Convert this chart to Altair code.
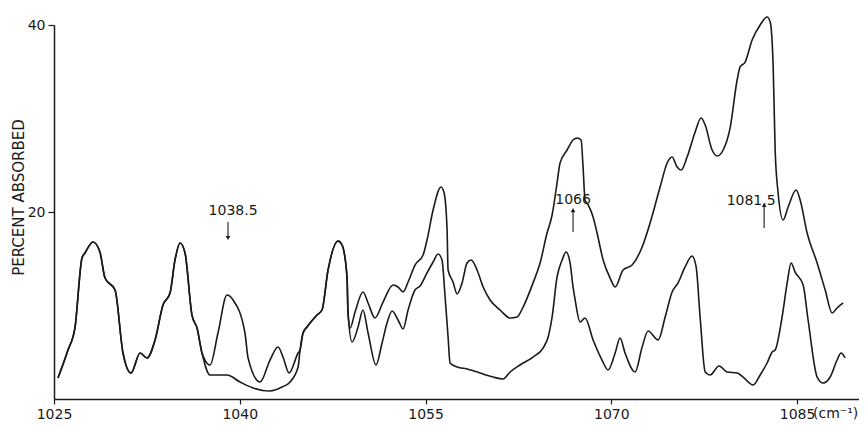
import altair as alt
import pandas as pd

# ---- data (wavenumber cm^-1, percent absorbed) ----
x_upper = [1025.32, 1026.13, 1026.70, 1027.26, 1027.50, 1028.15, 1028.71, 1029.12, 1029.93, 1030.57,
           1031.22, 1031.95, 1032.51, 1033.16, 1033.80, 1034.37, 1034.77, 1035.18, 1035.58, 1036.14,
           1036.55, 1036.95, 1037.19, 1037.60, 1038.24, 1038.97, 1039.46, 1040.42, 1040.67, 1041.64,
           1042.44, 1043.09, 1043.49, 1043.98, 1044.71, 1044.87, 1045.11, 1045.43, 1046.24, 1046.64,
           1047.13, 1047.94, 1048.26, 1048.66, 1048.74, 1048.91, 1049.31, 1049.95, 1050.36, 1050.92,
           1051.57, 1052.38, 1052.78, 1053.19, 1053.59, 1054.15, 1054.80, 1055.12, 1055.61, 1056.25,
           1056.50, 1056.74, 1056.82, 1057.22, 1057.55, 1057.95, 1058.35, 1058.68, 1059.16, 1059.65,
           1060.21, 1061.02, 1061.83, 1062.39, 1062.88, 1063.68, 1064.25, 1064.81, 1065.22, 1065.62,
           1065.86, 1066.43, 1066.91, 1067.24, 1067.56, 1067.72, 1067.88, 1068.13, 1068.53, 1068.85,
           1069.34, 1069.90, 1070.31, 1070.95, 1071.68, 1072.49, 1073.13, 1073.94, 1074.51, 1074.91,
           1075.31, 1075.64, 1076.12, 1076.77, 1077.25, 1077.58, 1078.14, 1078.55, 1079.03, 1079.59,
           1080.16, 1080.40, 1080.81, 1081.37, 1082.02, 1082.58, 1082.83, 1083.07, 1083.23, 1083.47,
           1083.87, 1084.28, 1084.92, 1085.25, 1085.81, 1086.62, 1087.27, 1087.83, 1088.23, 1088.72]
y_upper = [2.25, 5.24, 7.70, 15.08, 15.61, 16.79, 15.72, 12.94, 11.66, 4.92,
           2.78, 4.92, 4.39, 6.31, 10.05, 11.34, 14.87, 16.68, 15.61, 8.98,
           7.59, 4.92, 4.17, 3.64, 7.06, 11.12, 10.59, 7.06, 4.39, 1.82,
           4.17, 5.56, 4.49, 2.78, 4.92, 5.24, 7.06, 7.70, 8.98, 9.52,
           13.80, 16.90, 16.47, 13.05, 9.20, 7.59, 9.30, 11.44, 10.27, 8.66,
           10.37, 12.19, 11.98, 11.44, 12.51, 14.33, 15.40, 17.01, 20.21, 22.67,
           22.03, 18.07, 13.80, 12.51, 11.23, 12.41, 14.55, 14.87, 13.80, 11.98,
           10.59, 9.52, 8.66, 8.77, 9.84, 12.41, 14.55, 17.75, 19.68, 23.10,
           25.24, 26.63, 27.70, 27.91, 27.70, 24.81, 21.28, 20.75, 19.47, 17.75,
           14.87, 12.94, 11.98, 13.80, 14.33, 16.26, 18.82, 22.67, 25.24, 25.88,
           24.81, 24.49, 25.88, 28.56, 30.05, 29.30, 26.63, 25.99, 26.63, 28.98,
           34.12, 35.51, 36.04, 38.40, 40.00, 40.86, 40.32, 35.51, 26.63, 22.03,
           19.14, 20.53, 22.35, 21.28, 17.75, 14.55, 11.66, 9.20, 9.73, 10.27]

x_lower = [1025.32, 1026.13, 1026.70, 1027.26, 1027.50, 1028.15, 1028.71, 1029.12, 1029.93, 1030.57,
           1031.22, 1031.95, 1032.51, 1033.16, 1033.80, 1034.37, 1034.77, 1035.18, 1035.58, 1036.14,
           1036.55, 1036.95, 1037.60, 1038.97, 1040.02, 1041.07, 1042.44, 1043.41, 1044.06, 1044.71,
           1044.87, 1045.11, 1045.43, 1046.24, 1046.64, 1047.13, 1047.94, 1048.26, 1048.66, 1048.74,
           1049.07, 1049.55, 1049.95, 1050.36, 1051.00, 1051.49, 1051.89, 1052.30, 1052.78, 1053.19,
           1053.59, 1054.15, 1054.56, 1055.12, 1055.61, 1056.01, 1056.33, 1056.58, 1056.82, 1056.98,
           1057.55, 1058.35, 1059.40, 1060.45, 1061.26, 1061.83, 1062.63, 1063.68, 1064.49, 1064.90,
           1065.22, 1065.62, 1066.03, 1066.35, 1066.67, 1066.91, 1067.08, 1067.48, 1067.88, 1068.53,
           1069.25, 1069.74, 1070.31, 1070.71, 1071.11, 1071.92, 1072.49, 1072.97, 1073.78, 1074.35,
           1074.91, 1075.39, 1075.96, 1076.52, 1076.85, 1077.17, 1077.58, 1077.98, 1078.70, 1079.35,
           1080.16, 1080.64, 1081.45, 1082.02, 1082.58, 1082.99, 1083.23, 1083.79, 1084.20, 1084.52,
           1084.84, 1085.49, 1085.89, 1086.62, 1087.11, 1087.67, 1088.23, 1088.55, 1088.88]
y_lower = [2.25, 5.24, 7.70, 15.08, 15.61, 16.79, 15.72, 12.94, 11.66, 4.92,
           2.78, 4.92, 4.39, 6.31, 10.05, 11.34, 14.87, 16.68, 15.61, 8.98,
           7.59, 4.92, 2.57, 2.57, 1.82, 1.18, 0.86, 1.28, 1.82, 3.42,
           5.24, 7.06, 7.70, 8.98, 9.52, 13.80, 16.90, 16.47, 13.05, 9.20,
           6.10, 7.70, 9.52, 7.06, 3.64, 5.99, 8.13, 9.41, 8.45, 7.49,
           9.52, 11.66, 12.09, 13.48, 14.65, 15.51, 14.87, 10.91, 6.63, 3.85,
           3.42, 3.21, 2.78, 2.35, 2.14, 2.89, 3.64, 4.49, 5.45, 6.63,
           8.77, 13.05, 14.87, 15.72, 14.55, 11.98, 10.59, 8.24, 8.66, 6.31,
           4.17, 3.10, 4.92, 6.52, 4.92, 2.89, 5.56, 7.27, 6.31, 8.77,
           11.44, 12.41, 14.12, 15.29, 14.12, 8.77, 2.89, 2.57, 3.53, 2.89,
           2.78, 2.35, 1.50, 2.57, 3.85, 5.03, 5.24, 8.77, 12.41, 14.55,
           13.58, 12.19, 8.45, 2.35, 1.71, 2.35, 4.17, 4.92, 4.39]

x_ticks = [1025, 1040, 1055, 1070, 1085]
y_ticks = [20, 40]

peak_labels = ["1038.5", "1066", "1081.5"]
label_x = [1039.46, 1066.91, 1081.29]
label_y = [20.1, 21.3, 21.2]
arrow_x = [1039.05, 1066.91, 1082.34]
arrow_top = [18.93, 20.2, 20.75]
arrow_bottom = [17.22, 17.86, 18.29]
arrow_dir = ["down", "up", "up"]

unit_text = ["(cm⁻¹)"]
unit_x = [1086.29]
unit_y = [-1.6]

FONT = "DejaVu Sans"
INK = "#1a1a1a"

# ---- tables ----
rows = []
for i, (x, y) in enumerate(zip(x_upper, y_upper)):
    rows.append({"series": "upper", "i": i, "wavenumber": x, "absorbed": y})
for i, (x, y) in enumerate(zip(x_lower, y_lower)):
    rows.append({"series": "lower", "i": i, "wavenumber": x, "absorbed": y})
curves = pd.DataFrame(rows)

ann = pd.DataFrame({"label": peak_labels, "lx": label_x, "ly": label_y,
                    "ax": arrow_x, "top": arrow_top, "bottom": arrow_bottom,
                    "dir": arrow_dir})
ann["head"] = [b if d == "down" else t for t, b, d in zip(arrow_top, arrow_bottom, arrow_dir)]

unit = pd.DataFrame({"t": unit_text, "x": unit_x, "y": unit_y})

xscale = alt.Scale(domain=[1025, 1090], nice=False, zero=False)
yscale = alt.Scale(domain=[0, 40], nice=False)

xaxis = alt.Axis(values=x_ticks, title=None, grid=False, format="d",
                 labelFont=FONT, labelFontSize=14, labelColor=INK, labelPadding=3,
                 labelFlush=False,
                 tickSize=5, tickColor=INK, tickWidth=1.2,
                 domainColor=INK, domainWidth=1.5)
yaxis = alt.Axis(values=y_ticks, title="PERCENT ABSORBED", grid=False,
                 labelFont=FONT, labelFontSize=14, labelColor=INK, labelPadding=3,
                 tickSize=6, tickColor=INK, tickWidth=1.2,
                 domainColor=INK, domainWidth=1.5,
                 titleFont=FONT, titleFontSize=15, titleFontWeight="normal",
                 titleColor=INK, titleX=-36, titleY=172, titleAlign="center",
                 titleBaseline="middle", titleAngle=270)

lines = alt.Chart(curves).mark_line(
    color=INK, strokeWidth=1.6, interpolate="monotone"
).encode(
    x=alt.X("wavenumber:Q", scale=xscale, axis=xaxis),
    y=alt.Y("absorbed:Q", scale=yscale, axis=yaxis),
    detail="series:N",
    order="i:Q",
)

labels = alt.Chart(ann).mark_text(
    font=FONT, fontSize=14, color=INK, baseline="middle", align="center"
).encode(
    x=alt.X("lx:Q", scale=xscale), y=alt.Y("ly:Q", scale=yscale), text="label:N"
)

shafts = alt.Chart(ann).mark_rule(color=INK, strokeWidth=1.1).encode(
    x=alt.X("ax:Q", scale=xscale), y=alt.Y("top:Q", scale=yscale), y2="bottom:Q"
)

heads = alt.Chart(ann).mark_point(filled=True, color=INK, size=22, opacity=1).encode(
    x=alt.X("ax:Q", scale=xscale),
    y=alt.Y("head:Q", scale=yscale),
    shape=alt.Shape("dir:N", scale=alt.Scale(domain=["down", "up"],
                                             range=["triangle-down", "triangle-up"]),
                    legend=None),
)

unit_mark = alt.Chart(unit).mark_text(
    font=FONT, fontSize=14, color=INK, align="left", baseline="middle"
).encode(x=alt.X("x:Q", scale=xscale), y=alt.Y("y:Q", scale=yscale), text="t:N")

chart = alt.layer(lines, labels, shafts, heads, unit_mark).properties(
    width=805, height=374,
    autosize=alt.AutoSizeParams(type="none"),
    padding={"left": 46, "top": 17, "right": 0, "bottom": 25},
    background="white",
).configure_view(stroke=None)

chart.save("out.html", embed_options={"renderer": "svg", "actions": False})
